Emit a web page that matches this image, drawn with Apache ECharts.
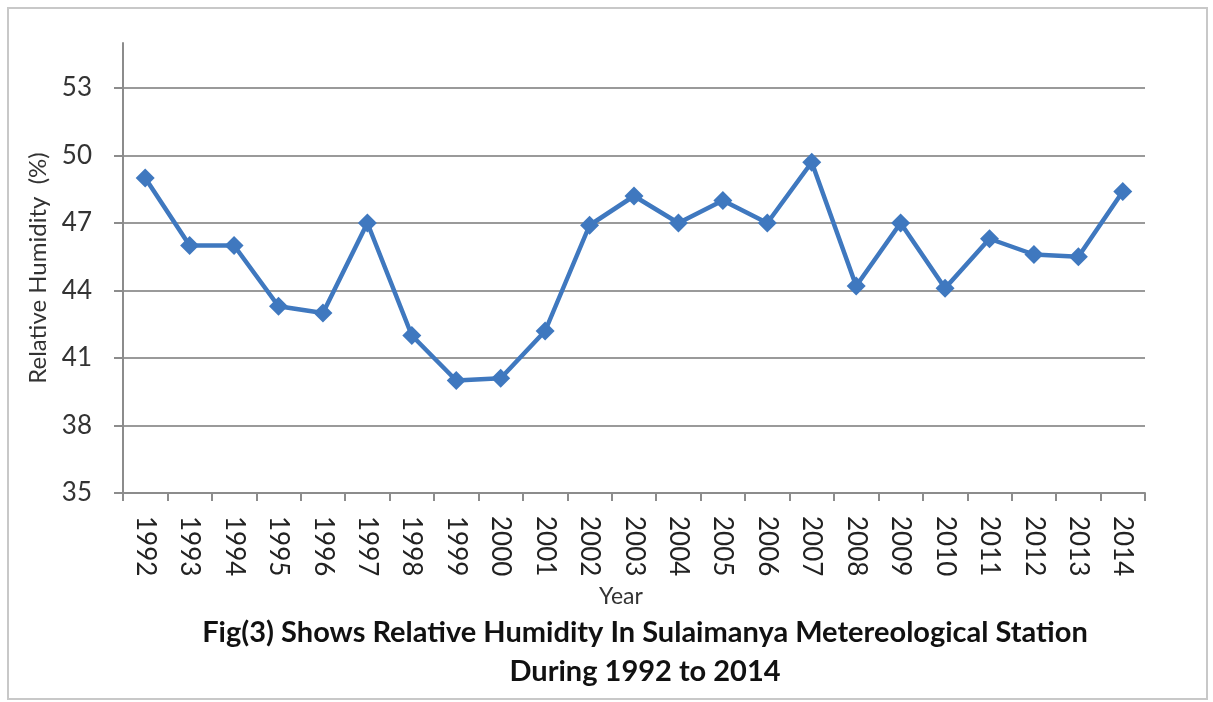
<!DOCTYPE html>
<html>
<head>
<meta charset="utf-8">
<style>
  html, body { margin: 0; padding: 0; background: #fff; }
  #chart { width: 1213px; height: 702px; }
</style>
<script src="https://cdn.jsdelivr.net/npm/echarts@6/dist/echarts.min.js"></script>
</head>
<body>
<div id="chart"></div>
<script>
// years on the x axis
var years = ['1992', '1993', '1994', '1995', '1996', '1997', '1998', '1999', '2000', '2001', '2002',
             '2003', '2004', '2005', '2006', '2007', '2008', '2009', '2010', '2011', '2012', '2013', '2014'];
// relative humidity (%)
var humidity = [49.0, 46.0, 46.0, 43.3, 43.0, 47.0, 42.0, 40.0, 40.1, 42.2, 46.9,
                48.2, 47.0, 48.0, 47.0, 49.7, 44.2, 47.0, 44.1, 46.3, 45.6, 45.5, 48.4];
// y tick labels
var yTicks = [35, 38, 41, 44, 47, 50, 53];

var myChart = echarts.init(document.getElementById('chart'));

var option = {
    backgroundColor: '#fff',
    animation: false,
    graphic: [{
        type: 'rect',
        shape: { x: 8, y: 8, width: 1199, height: 691 },
        style: { fill: 'none', stroke: '#c8c8c8', lineWidth: 2 }
    }],
    title: [{
        text: 'Fig(3) Shows Relative Humidity In Sulaimanya Metereological Station\nDuring 1992 to 2014',
        left: 640,
        textAlign: 'center',
        top: 608,
        textStyle: {
            fontFamily: 'Lato',
            fontWeight: 'bold',
            fontSize: 29,
            lineHeight: 39,
            color: '#111'
        }
    }, {
        text: 'Year',
        left: 616,
        textAlign: 'center',
        top: 580,
        textStyle: {
            fontFamily: 'Lato',
            fontWeight: 'normal',
            fontSize: 23,
            color: '#333'
        }
    }],
    grid: {
        left: 123,
        right: 68,
        top: 43,
        bottom: 209
    },
    xAxis: {
        type: 'category',
        data: years,
        boundaryGap: true,
        axisLine: { lineStyle: { color: '#8c8c8c', width: 2 } },
        axisTick: { show: true, length: 8, lineStyle: { color: '#8c8c8c', width: 2 } },
        axisLabel: {
            rotate: -90,
            margin: 23,
            fontFamily: 'Lato',
            fontSize: 26,
            color: '#222'
        }
    },
    yAxis: {
        type: 'value',
        min: 35,
        max: 55,
        name: 'Relative Humidity  (%)',
        nameLocation: 'middle',
        nameRotate: 90,
        nameGap: 73,
        nameTextStyle: { fontFamily: 'Lato', fontSize: 24, color: '#333' },
        axisLine: { show: true, lineStyle: { color: '#8c8c8c', width: 2 } },
        axisTick: { show: true, length: 9, customValues: yTicks, lineStyle: { color: '#8c8c8c', width: 2 } },
        axisLabel: {
            customValues: yTicks,
            margin: 31,
            fontFamily: 'Lato',
            fontSize: 26,
            color: '#333'
        },
        splitLine: { show: true, lineStyle: { color: '#9a9a9a', width: 2 } }
    },
    series: [{
        type: 'line',
        data: humidity,
        symbol: 'diamond',
        symbolSize: 19,
        lineStyle: { color: '#3f78bf', width: 4.5 },
        itemStyle: { color: '#3f78bf' }
    }]
};

myChart.setOption(option);
</script>
</body>
</html>
